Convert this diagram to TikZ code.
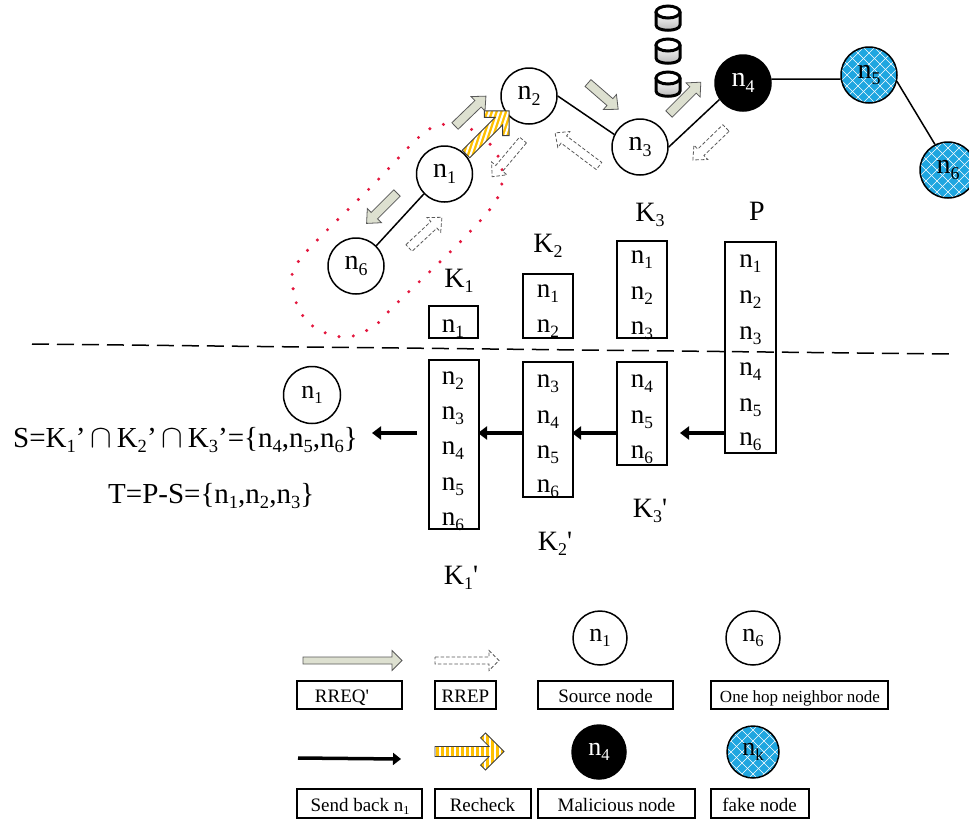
\documentclass[tikz,border=0pt]{standalone}
\usepackage{fontspec}
\usepackage{graphicx}
\setmainfont{Liberation Serif}
\newfontfamily\plainrm{Liberation Serif}
\usetikzlibrary{arrows.meta,fit,calc}
\definecolor{reqgray}{HTML}{DDE0D0}
\definecolor{recheck}{HTML}{FFC000}
\definecolor{fakeblue}{HTML}{1FA6E0}
\definecolor{dotred}{HTML}{E3173E}
\newcommand\nsub[1]{\raisebox{-.2em}{\scalebox{.64}{#1}}}
\newcommand\nn[1]{n\nsub{#1}}
\newcommand\kk[1]{K\nsub{#1}}
\newcommand\sq{{\plainrm'}}
\newcommand\wcap{\,\scalebox{1.3}{$\cap$}\,}
\tikzset{
  fs/.style={font=\fontsize{#1}{#1}\selectfont},
  nodecirc/.style={circle,draw=black,line width=1.5pt,fill=white,minimum size=56pt,inner sep=0pt,fs=28},
  malnode/.style={nodecirc,fill=black,text=white},
  fakenode/.style={nodecirc,fill=fakeblue,path picture={
    \foreach \k in {-7,...,7}{
      \draw[white,line width=.5pt,x=1pt,y=1pt]
        ($(path picture bounding box.center)+(\k*11-50,-50)$) -- ++(100,100)
        ($(path picture bounding box.center)+(\k*11-50,50)$) -- ++(100,-100);
    }}},
  link/.style={line width=1.5pt,black},
  listbox/.style={draw=black,line width=1.3pt,inner sep=0pt,fill=none},
  keybox/.style={draw=black,line width=1.3pt,inner sep=0pt},
  keytext/.style={anchor=base,inner sep=0pt,fs=19},
  item/.style={anchor=base,inner sep=0pt,fs=27},
  lab/.style={anchor=base,inner sep=0pt,fs=28},
  backarrow/.style={line width=4pt,-{Triangle[length=9pt,width=13pt]},black},
  reqarrow/.style={fill=reqgray,draw=black!65,line width=.8pt},
  reparrow/.style={fill=none,draw=black!65,line width=.8pt,dash pattern=on 3.5pt off 2pt},
}
% style, x, y, angle, length, shaft half, head half, head length
\newcommand\blockarrow[8]{%
  \begin{scope}[shift={(#2,#3)},rotate=#4,x=1pt,y=1pt]
    \draw[#1] (0,#6) -- ({#5-#8},#6) -- ({#5-#8},#7) -- (#5,0) -- ({#5-#8},-#7) -- ({#5-#8},-#6) -- (0,-#6) -- cycle;
  \end{scope}}
% x, y, angle, length, shaft half, head half, arm thickness, stripe skew, period
\newcommand\chevarrow[9]{%
  \begin{scope}[shift={(#1,#2)},rotate=#3,x=1pt,y=1pt]
    \pgfmathsetmacro\cha{#7*1.414}
    \pgfmathsetmacro\stw{#9*0.45/sqrt(1+#8*#8)}
    \def\chevpath{(0,#5) -- ({#4-\cha-#5},#5) -- ({#4-#6-\cha/2},{#6-\cha/2}) -- ({#4-#6},#6) -- (#4,0) -- ({#4-#6},-#6) -- ({#4-#6-\cha/2},{-#6+\cha/2}) -- ({#4-\cha-#5},-#5) -- (0,-#5) -- cycle}
    \begin{scope}
      \clip \chevpath;
      \fill[recheck] (-5,-30) rectangle ({#4+5},30);
      \pgfmathsetmacro\nxtq{-80+#9}
      \foreach \q in {-80,\nxtq,...,160}{
        \draw[white,line width=\stw pt] ({\q-#8*30},-30) -- ({\q+#8*30},30);
      }
    \end{scope}
    \draw[black!75,line width=.8pt] \chevpath;
  \end{scope}}
\newcommand\cylinder[2]{%
  \draw[line width=3pt,black,top color=white,bottom color=black!30,rounded corners=1pt]
    ({#1-12},{#2+7}) -- ({#1-12},{#2+19})
    .. controls ({#1-12},{#2+27}) and ({#1+12},{#2+27}) .. ({#1+12},{#2+19})
    -- ({#1+12},{#2+7}) -- cycle;
  \draw[line width=3pt,black,fill=white] (#1,{#2+7}) ellipse [x radius=12pt,y radius=6pt];}
\begin{document}
\begin{tikzpicture}[x=1pt,y=-1pt]
\useasboundingbox (0,0) rectangle (969,823);
% red dotted loop
\draw[dotred,line width=3.4pt,line cap=round,dash pattern=on 0pt off 14.4pt]
  plot[smooth cycle,tension=.6] coordinates {(453,125) (480,134) (498,156) (502,170) (497,199) (462,240) (395,305) (374,326) (347,337) (319,330) (301,313) (293,286) (301,258) (372,186) (425,132)};
% network nodes
\node[nodecirc] (a1) at (444.5,174) {\nn{1}};
\node[nodecirc] (a2) at (529,96) {\nn{2}};
\node[nodecirc] (a3) at (640,147) {\nn{3}};
\node[malnode] (a4) at (743,83) {\nn{4}};
\node[fakenode] (a5) at (869,75) {\nn{5}};
\node[fakenode] (a6) at (948,170) {\nn{6}};
\node[nodecirc] (b6) at (356,266) {\nn{6}};
\draw[link] (a1.224) -- (b6.45);
\draw[link] (a2.0) -- (a3.154);
\draw[link] (a3.0) -- (a4.215);
\draw[link] (a4.8) -- (a5.188);
\draw[link] (a5.-13) -- (a6.117);
% storage cylinders
\cylinder{668}{5}
\cylinder{668}{38}
\cylinder{668}{71}
% block arrows
\blockarrow{reqarrow}{455}{126}{44}{43}{4.5}{10}{11}
\blockarrow{reqarrow}{588}{83}{-41}{40}{4.5}{10}{11}
\blockarrow{reqarrow}{397}{193}{225}{43}{4.5}{10}{11}
\blockarrow{reqarrow}{669}{114}{45}{45}{4.5}{10}{11}
\blockarrow{reparrow}{409}{248}{43}{45}{4.5}{10}{11}
\blockarrow{reparrow}{523}{140}{230}{48}{4.5}{10}{11}
\blockarrow{reparrow}{599}{166}{143}{55}{4.5}{10}{11}
\blockarrow{reparrow}{726}{128}{224}{46}{4.5}{10}{11}
\chevarrow{466}{154}{45}{61}{5.3}{17.5}{6.5}{2}{10}
% key labels
\node[lab] (k1) at (459,287) {\kk{1}};
\node[lab] (k2) at (548,252) {\kk{2}};
\node[lab] (k3) at (650,221) {\kk{3}};
\node[lab] (kp) at (757,220) {P};
\node[lab] (k3p) at (650,517) {\kk{3}\sq};
\node[lab] (k2p) at (555,550) {\kk{2}\sq};
\node[lab] (k1p) at (461,584) {\kk{1}\sq};
% dashed divider
\coordinate (divL) at (32,344);
\coordinate (divR) at (950,354);
% lists
\node[listbox,fit={(429,306)(478,338)}] (K1) {};
\node[listbox,fit={(523,274)(573,338)}] (K2) {};
\node[listbox,fit={(617,241)(667,338)}] (K3) {};
\node[listbox,fit={(725,242)(776,453)}] (PB) {};
\node[listbox,fit={(429,360)(479,529)}] (K1b) {};
\node[listbox,fit={(523,362)(573,497)}] (K2b) {};
\node[listbox,fit={(617,362)(667,465)}] (K3b) {};
\draw[line width=1.5pt,dash pattern=on 17pt off 8pt] (divL) -- (divR);
\node[item] (t11) at (453,332) {\nn{1}};
\node[item] (t21) at (548,297) {\nn{1}};
\node[item] (t22) at (548,332) {\nn{2}};
\node[item] (t31) at (642,263) {\nn{1}};
\node[item] (t32) at (642,299) {\nn{2}};
\node[item] (t33) at (642,334) {\nn{3}};
\foreach \i/\y in {1/267,2/303,3/339,4/375,5/411,6/445}
  \node[item] (p\i) at (750.5,\y) {\nn{\i}};
\foreach \i/\y in {2/384,3/419,4/454,5/490,6/525}
  \node[item] (u\i) at (453,\y) {\nn{\i}};
\foreach \i/\y in {3/387,4/423,5/458,6/492}
  \node[item] (v\i) at (548,\y) {\nn{\i}};
\foreach \i/\y in {4/387,5/423,6/458}
  \node[item] (w\i) at (642,\y) {\nn{\i}};
% send-back arrows
\coordinate (s0) at (725,433); \coordinate (s1) at (680,433);
\coordinate (s2) at (617,433); \coordinate (s3) at (572,433);
\coordinate (s4) at (523,433); \coordinate (s5) at (478,433);
\coordinate (s6) at (417,433); \coordinate (s7) at (372,433);
\draw[backarrow] (s0) -- (s1);
\draw[backarrow] (s2) -- (s3);
\draw[backarrow] (s4) -- (s5);
\draw[backarrow] (s6) -- (s7);
% result
\node[nodecirc,minimum size=57pt,fs=26] (res) at (312,395) {\nn{1}};
\node[anchor=base west,inner sep=0pt,fs=29] (sset) at (13,447) {S=\kk{1}'\wcap\kk{2}'\wcap\kk{3}'=\{\nn{4},\nn{5},\nn{6}\}};
\node[anchor=base west,inner sep=0pt,fs=29] (tset) at (108,503) {T=P-S=\{\nn{1},\nn{2},\nn{3}\}};
% legend
\blockarrow{reqarrow}{303}{660.5}{0}{99}{3.5}{10}{10}
\blockarrow{reparrow}{435}{660.5}{0}{64}{3.5}{10}{10}
\coordinate (la) at (298,758); \coordinate (lb) at (401,759);
\draw[line width=3.5pt,-{Triangle[length=8pt,width=12pt]}] (la) -- (lb);
\chevarrow{435}{751.5}{0}{69}{5}{18.5}{7}{0}{5}
\node[nodecirc,minimum size=54pt,fs=26] (l1) at (600,638) {\nn{1}};
\node[nodecirc,minimum size=54pt,fs=26] (l6) at (753,638) {\nn{6}};
\node[malnode,minimum size=54pt,fs=26] (l4) at (599,752) {\nn{4}};
\node[fakenode,minimum size=52pt,fs=26] (lk) at (753,752) {\nn{k}};
\node[keybox,fit={(297,681)(402,709)}] (b1) {};
\node[keybox,fit={(435,681)(496,709)}] (b2) {};
\node[keybox,fit={(538,681)(673,709)}] (b3) {};
\node[keybox,fit={(711,681)(888,709)}] (b4) {};
\node[keybox,fit={(297,789)(422,818)}] (b5) {};
\node[keybox,fit={(435,789)(531,818)}] (b6) {};
\node[keybox,fit={(538,789)(695,818)}] (b7) {};
\node[keybox,fit={(711,789)(809,818)}] (b8) {};
\node[keytext] (c1) at (342,702) {RREQ\sq};
\node[keytext] (c2) at (465.5,702) {RREP};
\node[keytext] (c3) at (605.5,702) {Source node};
\node[keytext,fs=17] (c4) at (800,702) {One hop neighbor node};
\node[keytext] (c5) at (360,811) {Send back \nn{1}};
\node[keytext] (c6) at (482.5,811) {Recheck};
\node[keytext] (c7) at (616.5,811) {Malicious node};
\node[keytext] (c8) at (759.5,811) {fake node};
\end{tikzpicture}
\end{document}
